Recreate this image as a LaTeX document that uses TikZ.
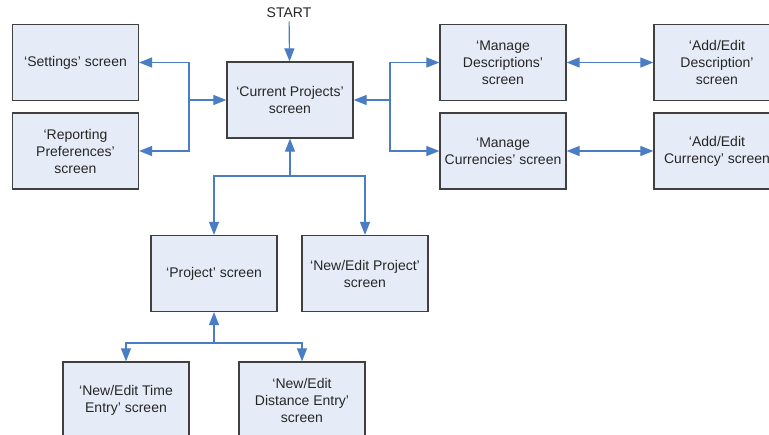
\documentclass[tikz,border=0pt]{standalone}
\usepackage{fontspec}
\setmainfont{Liberation Sans}
\usetikzlibrary{arrows.meta}
\definecolor{boxfill}{HTML}{E6ECF7}
\definecolor{boxline}{HTML}{404040}
\definecolor{conn}{HTML}{4A7DC4}
\begin{document}
\begin{tikzpicture}[x=1pt,y=-1pt,
  scr/.style={draw=boxline, line width=1.3pt, fill=boxfill, minimum width=126pt, minimum height=76pt,
    align=center, inner sep=2pt, font=\fontsize{14}{17}\selectfont, text=black!85},
  arr/.style={draw=conn, line width=1.2pt, -{Triangle[length=13pt,width=10pt]}},
  darr/.style={draw=conn, line width=1.2pt, {Triangle[length=13pt,width=10pt]}-{Triangle[length=13pt,width=10pt]}}]
\path[use as bounding box] (0,0) rectangle (769,435);
\clip (0,0) rectangle (769,435);
\fill[white] (0,0) rectangle (769,435);
\node[font=\fontsize{14}{17}\selectfont, text=black!85] (start) at (289,13) {START};
\node[scr] (set) at (75.5,62.5) {‘Settings’ screen};
\node[scr] (rep) at (75.5,151) {‘Reporting\\Preferences’\\screen};
\node[scr] (cp) at (290,100) {‘Current Projects’\\screen};
\node[scr] (md) at (503,62.5) {‘Manage\\Descriptions’\\screen};
\node[scr] (mc) at (503,151) {‘Manage\\Currencies’ screen};
\node[scr] (aed) at (717,62.5) {‘Add/Edit\\Description’\\screen};
\node[scr] (aec) at (717,151) {‘Add/Edit\\Currency’ screen};
\node[scr] (prj) at (214,273.5) {‘Project’ screen};
\node[scr] (nep) at (365,273.5) {‘New/Edit Project’\\screen};
\node[scr] (nete) at (126,400) {‘New/Edit Time\\Entry’ screen};
\node[scr] (nede) at (302,400) {‘New/Edit\\Distance Entry’\\screen};
\coordinate (L) at (189,100);
\coordinate (R) at (390,100);
\coordinate (B) at (290,176);
\coordinate (P) at (214,343);
\draw[arr] (start) -- (cp);
\draw[arr] (L) -- (cp);
\draw[arr] (L) |- (set);
\draw[arr] (L) |- (rep);
\draw[arr] (R) -- (cp);
\draw[arr] (R) |- (md);
\draw[arr] (R) |- (mc);
\draw[darr] (md) -- (aed);
\draw[darr] (mc) -- (aec);
\draw[arr] (B) -- (cp);
\draw[arr] (B) -| (prj);
\draw[arr] (B) -| (nep);
\draw[arr] (P) -- (prj);
\draw[arr] (P) -| (nete);
\draw[arr] (P) -| (nede);
\end{tikzpicture}
\end{document}
